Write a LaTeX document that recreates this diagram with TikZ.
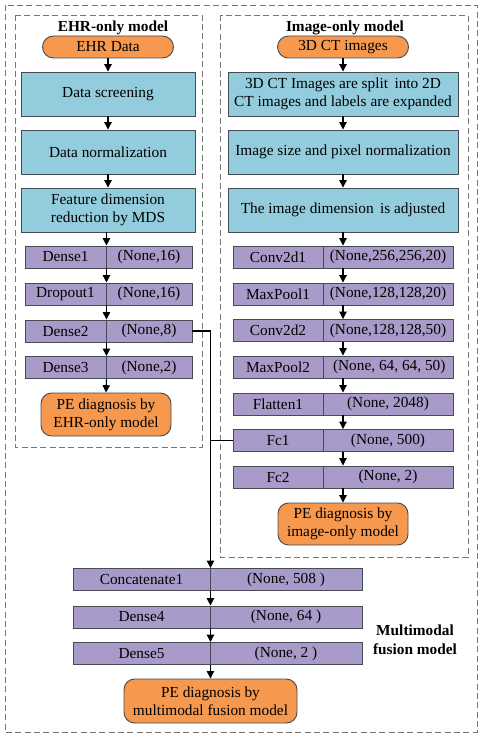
\documentclass[tikz,border=0pt]{standalone}
\usepackage{fontspec}
\setmainfont{Liberation Serif}
\usetikzlibrary{arrows.meta}
\definecolor{cblue}{RGB}{147,205,221}
\definecolor{cpurp}{RGB}{169,155,201}
\definecolor{corange}{RGB}{246,153,78}
\definecolor{cbord}{RGB}{70,75,85}
\definecolor{dgray}{RGB}{120,120,120}
\begin{document}
\begin{tikzpicture}[x=0.75pt,y=-0.75pt,
  font=\fontsize{11.5}{13.5}\selectfont,
  bluebox/.style={draw=cbord, fill=cblue, line width=0.7pt, inner sep=0pt, align=center, minimum height=33pt},
  cell/.style={draw=cbord, fill=cpurp, line width=0.7pt, inner sep=0pt, minimum height=16.5pt},
  pill/.style={draw=cbord, fill=corange, line width=0.7pt, inner sep=0pt, rounded corners=8.25pt, minimum width=98.25pt, minimum height=16.5pt},
  pebox/.style={draw=cbord, fill=corange, line width=0.7pt, inner sep=0pt, rounded corners=8pt, align=center},
  arr/.style={-{Triangle[length=5.5pt,width=5.5pt]}, line width=0.8pt},
  conn/.style={line width=0.8pt},
  dbox/.style={draw=dgray, dash pattern=on 4.5pt off 2.5pt, line width=0.6pt},
  ttl/.style={font=\fontsize{11.5}{14}\selectfont\bfseries, align=center}
]
\useasboundingbox (0,0) rectangle (480,735);
\draw[dbox] (5,5) rectangle (477,732);
\draw[dbox] (15,15) rectangle (202,447);
\draw[dbox] (220,15) rectangle (468,557);

% EHR column
\node[ttl] (t1) at (113,28) {EHR-only model};
\node[pill] (ehr) at (108,47) {EHR Data};
\node[bluebox, minimum width=130.5pt] (scr) at (108,94) {Data screening};
\node[bluebox, minimum width=130.5pt] (nrm) at (108,152) {Data normalization};
\node[bluebox, minimum width=130.5pt] (mds) at (108,210) {Feature dimension\\reduction by MDS};
\node[cell, minimum width=60.75pt] (d1l) at (65.5,257) {Dense1};
\node[cell, minimum width=64.5pt] (d1r) at (149,257) {(None,16)};
\node[cell, minimum width=60.75pt] (d2l) at (65.5,294) {Dropout1};
\node[cell, minimum width=64.5pt] (d2r) at (149,294) {(None,16)};
\node[cell, minimum width=60.75pt] (d3l) at (65.5,331) {Dense2};
\node[cell, minimum width=64.5pt] (d3r) at (149,331) {(None,8)};
\node[cell, minimum width=60.75pt] (d4l) at (65.5,367.5) {Dense3};
\node[cell, minimum width=64.5pt] (d4r) at (149,367.5) {(None,2)};
\node[pebox, minimum width=97.5pt, minimum height=32.25pt] (pe1) at (106,414.5) {PE diagnosis by\\EHR-only model};

\draw[arr] (ehr) -- (scr);
\draw[arr] (scr) -- (nrm);
\draw[arr] (nrm) -- (mds);
\draw[arr] (mds.south -| d1l.east) -- (d1l.north east);
\draw[arr] (d1l.south east) -- (d2l.north east);
\draw[arr] (d2l.south east) -- (d3l.north east);
\draw[arr] (d3l.south east) -- (d4l.north east);
\draw[arr] (d4l.south east) -- (pe1.north);

% Image column
\node[ttl] (t2) at (345,28) {Image-only model};
\node[pill] (ct) at (343,47) {3D CT images};
\node[bluebox, minimum width=172.5pt] (sp) at (343,94) {3D CT Images are split \,into 2D\\CT images and labels are expanded};
\node[bluebox, minimum width=172.5pt] (pn) at (343,152) {Image size and pixel normalization};
\node[bluebox, minimum width=172.5pt] (adj) at (343,210) {The image dimension \,is adjusted};
\node[cell, minimum width=67.5pt] (c1l) at (278,257) {Conv2d1};
\node[cell, minimum width=97.5pt] (c1r) at (388,257) {(None,256,256,20)};
\node[cell, minimum width=67.5pt] (c2l) at (278,294) {MaxPool1};
\node[cell, minimum width=97.5pt] (c2r) at (388,294) {(None,128,128,20)};
\node[cell, minimum width=67.5pt] (c3l) at (278,330.5) {Conv2d2};
\node[cell, minimum width=97.5pt] (c3r) at (388,330.5) {(None,128,128,50)};
\node[cell, minimum width=67.5pt] (c4l) at (278,367) {MaxPool2};
\node[cell, minimum width=97.5pt] (c4r) at (388,367) {\,(None, 64, 64, 50)};
\node[cell, minimum width=67.5pt] (c5l) at (278,404) {Flatten1};
\node[cell, minimum width=97.5pt] (c5r) at (388,404) {(None, 2048)};
\node[cell, minimum width=67.5pt] (c6l) at (278,440.5) {Fc1};
\node[cell, minimum width=97.5pt] (c6r) at (388,440.5) {(None, 500)};
\node[cell, minimum width=67.5pt] (c7l) at (278,477) {Fc2};
\node[cell, minimum width=97.5pt] (c7r) at (388,477) {(None, 2)};
\node[pebox, minimum width=97.5pt, minimum height=31.5pt] (pe2) at (343,524) {PE diagnosis by\\image-only model};

\draw[arr] (ct) -- (sp);
\draw[arr] (sp) -- (pn);
\draw[arr] (pn) -- (adj);
\draw[arr] (adj.south) -- (c1r.north -| adj.south);
\draw[arr] (c1r.south -| ct.south) -- (c2r.north -| ct.south);
\draw[arr] (c2r.south -| ct.south) -- (c3r.north -| ct.south);
\draw[arr] (c3r.south -| ct.south) -- (c4r.north -| ct.south);
\draw[arr] (c4r.south -| ct.south) -- (c5r.north -| ct.south);
\draw[arr] (c5r.south -| ct.south) -- (c6r.north -| ct.south);
\draw[arr] (c6r.south -| ct.south) -- (c7r.north -| ct.south);
\draw[arr] (c7r.south -| ct.south) -- (pe2.north);

% Fusion
\node[cell, minimum width=102.75pt] (f1l) at (141.5,579.5) {Concatenate1};
\node[cell, minimum width=114pt] (f1r) at (286,579.5) {(None, 508 )};
\node[cell, minimum width=102.75pt] (f2l) at (141.5,617) {Dense4};
\node[cell, minimum width=114pt] (f2r) at (286,617) {(None, 64 )};
\node[cell, minimum width=102.75pt] (f3l) at (141.5,653.5) {Dense5};
\node[cell, minimum width=114pt] (f3r) at (286,653.5) {(None, 2 )};
\node[pebox, minimum width=129.75pt, minimum height=33pt] (pe3) at (210.5,701) {PE diagnosis by\\multimodal fusion model};
\node[ttl, font=\fontsize{11.5}{14.25}\selectfont\bfseries] (t3) at (415,639.5) {Multimodal\\fusion model};

\draw[arr] (d3r.east) -| (f1l.north east);
\draw[conn] (c6l.west) -- (c6l.west -| f1l.east);
\draw[arr] (f1l.south east) -- (f2l.north east);
\draw[arr] (f2l.south east) -- (f3l.north east);
\draw[arr] (f3l.south east) -- (f3l.south east |- pe3.north);
\end{tikzpicture}
\end{document}
